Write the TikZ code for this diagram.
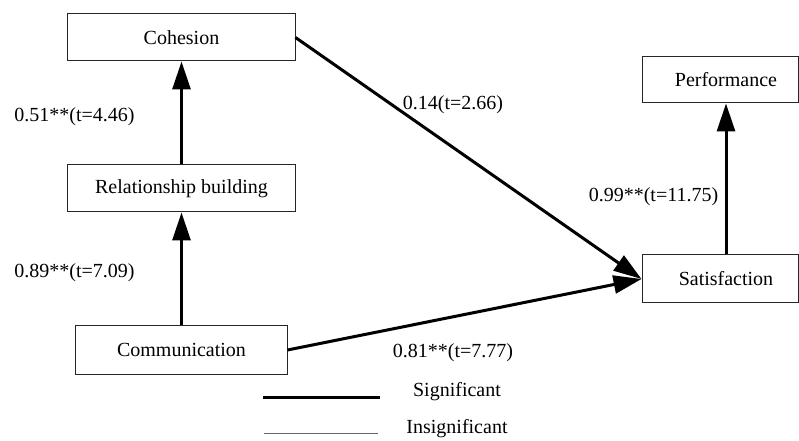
\documentclass[tikz,border=0pt]{standalone}
\usepackage{fontspec}
\setmainfont{Liberation Serif}
\usetikzlibrary{arrows.meta}
\begin{document}
\begin{tikzpicture}[x=1bp,y=-1bp,
  font=\fontsize{20bp}{24bp}\selectfont,
  box/.style={draw=black!85,line width=1bp,rectangle,inner sep=0pt,
    minimum height=47bp},
  path/.style={line width=3bp,-{Triangle[length=28bp,width=18bp]}},
  coef/.style={inner sep=0pt,anchor=center}]
\useasboundingbox (0,0) rectangle (799,441);
\clip (0,0) rectangle (799,441);

% construct boxes
\node[box,minimum width=227bp] (coh) at (181.5,37.5) {Cohesion};
\node[box,minimum width=227bp] (rel) at (181.5,188.5) {Relationship building};
\node[box,minimum width=211bp,minimum height=48bp] (com) at (181.5,350) {Communication};
\node[box,minimum width=156bp,minimum height=46bp] (perf) at (720,80) {\hspace*{12bp}Performance};
\node[box,minimum width=156bp,minimum height=48bp] (sat) at (720,279) {\hspace*{12bp}Satisfaction};

% structural paths
\draw[path] (rel.north) -- (coh.south);
\draw[path] (com.north) -- (rel.south);
\draw[path] ([xshift=6bp]sat.north) -- ([xshift=6bp]perf.south);
\draw[path] (coh.east) -- (sat.west);
\draw[path] (com.east) -- (sat.west);

% path coefficients
\node[coef] (c1) at (74.5,117) {0.51**(t=4.46)};
\node[coef] (c2) at (74.5,273) {0.89**(t=7.09)};
\node[coef] (c3) at (453,105) {0.14(t=2.66)};
\node[coef] (c4) at (653.5,197) {0.99**(t=11.75)};
\node[coef] (c5) at (453,353) {0.81**(t=7.77)};

% legend
\coordinate (s1) at (263,397);
\coordinate (s2) at (380,397);
\coordinate (i1) at (264,433);
\coordinate (i2) at (378,433);
\draw[line width=3bp] (s1) -- (s2);
\draw[line width=1bp,black!60] (i1) -- (i2);
\node[coef] (sig) at (457,392) {Significant};
\node[coef] (insig) at (457,429) {Insignificant};
\end{tikzpicture}
\end{document}
